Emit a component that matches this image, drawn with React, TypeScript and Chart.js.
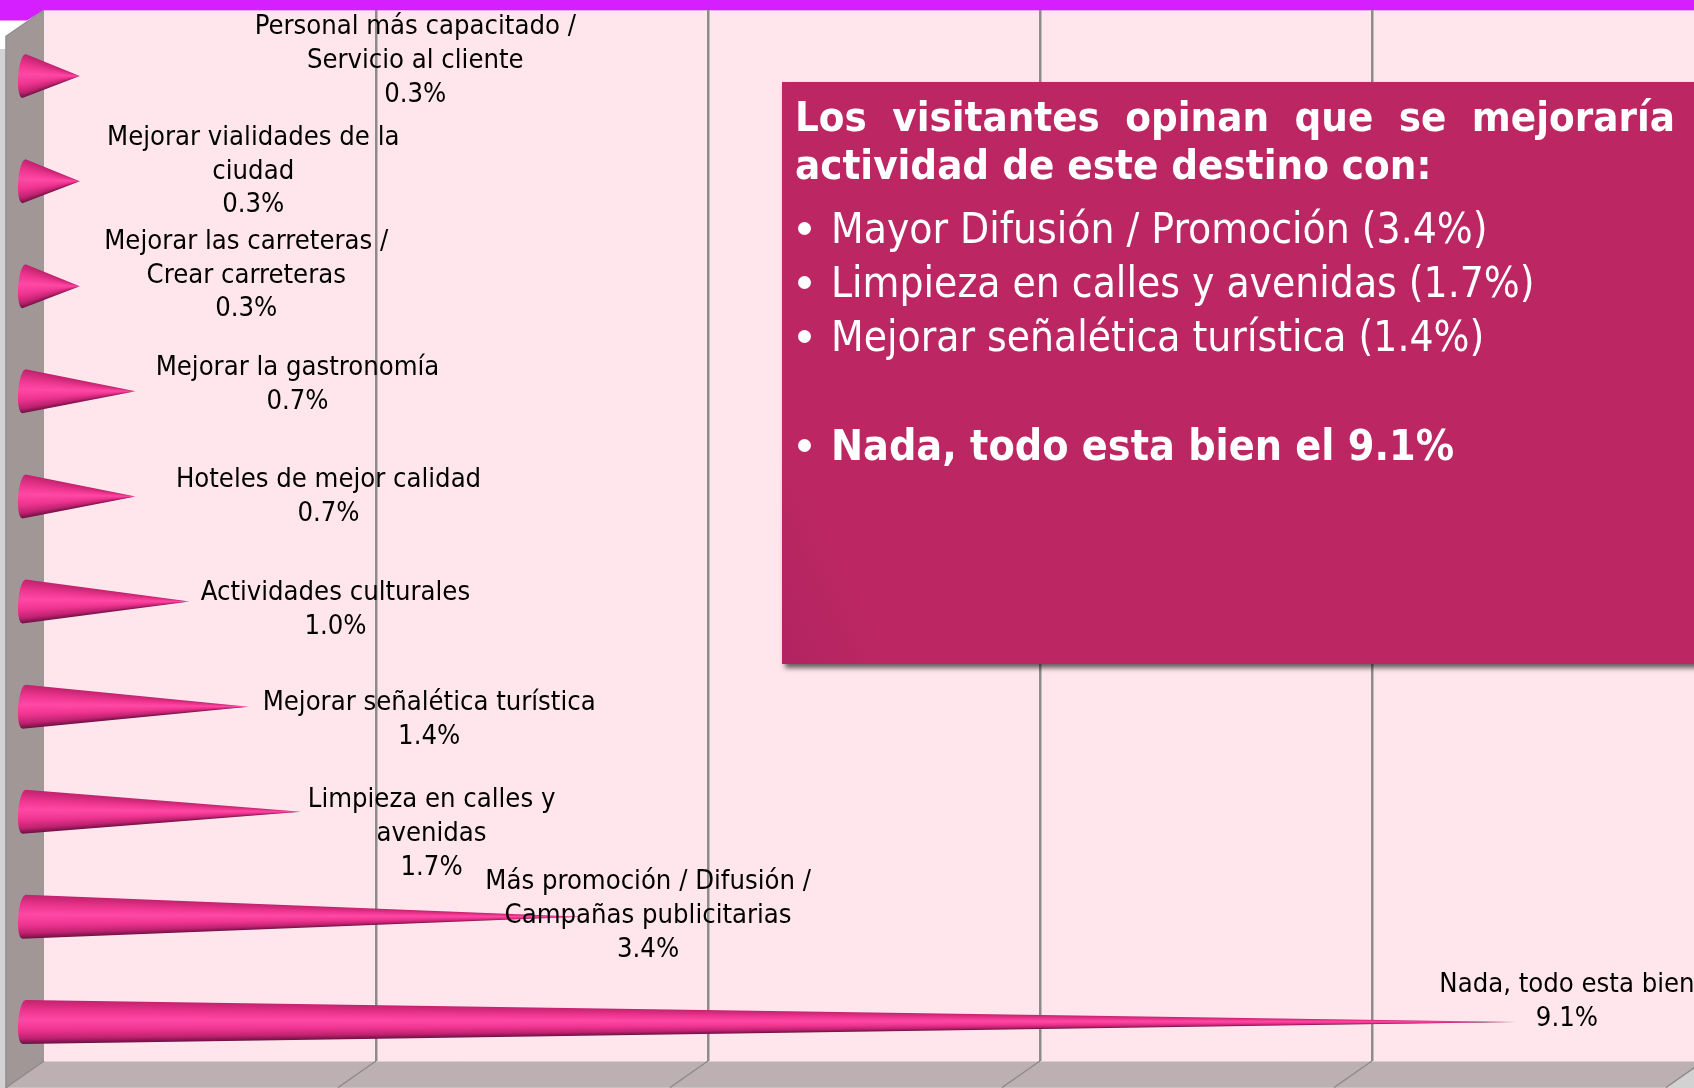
import React, { useEffect, useRef } from "react";
import { Chart, registerables } from "chart.js";

Chart.register(...registerables);

const categories: string[][] = [
  ["Personal más capacitado /", "Servicio al cliente"],
  ["Mejorar vialidades de la", "ciudad"],
  ["Mejorar las carreteras /", "Crear carreteras"],
  ["Mejorar la gastronomía"],
  ["Hoteles de mejor calidad"],
  ["Actividades culturales"],
  ["Mejorar señalética turística"],
  ["Limpieza en calles y", "avenidas"],
  ["Más promoción / Difusión /", "Campañas publicitarias"],
  ["Nada, todo esta bien"],
];
const shares = [0.34, 0.34, 0.34, 0.68, 0.68, 1.01, 1.37, 1.69, 3.4, 9.1];
const labelShiftX = [335.5, 173.5, 166.5, 162, 193, 145.8, 180.5, 130.4, 66.5, 50.5];
const labelShiftY = [-15.2, -9.7, -10.7, -6.7, 0.3, 8.3, 13.3, 22.3, -0.7, -19.7];

const panelTitle = ["Los visitantes opinan que se mejoraría", "actividad de este destino con:"];
const panelItems = [
  "Mayor Difusión / Promoción (3.4%)",
  "Limpieza en calles y avenidas (1.7%)",
  "Mejorar señalética turística (1.4%)",
];
const panelBold = "Nada, todo esta bien el 9.1%";

const W = 1694;
const H = 1088;
const FONT = "'DejaVu Sans Condensed', 'DejaVu Sans'";
const DEPTH_X = 38;
const DEPTH_Y = 26.5;
const RAMP: [number, string][] = [
  [0, "#c2226e"],
  [0.25, "#ee3690"],
  [0.45, "#ff48a5"],
  [0.68, "#ee3490"],
  [0.87, "#c02270"],
  [1, "#6c1042"],
];

const roomPlugin = {
  id: "room",
  beforeDraw(chart: any) {
    const { ctx, chartArea: a, scales } = chart;
    const x = scales.x;
    const poly = (pts: number[][], fill: string) => {
      ctx.beginPath();
      pts.forEach((p, i) => (i ? ctx.lineTo(p[0], p[1]) : ctx.moveTo(p[0], p[1])));
      ctx.closePath();
      ctx.fillStyle = fill;
      ctx.fill();
    };
    ctx.save();
    ctx.fillStyle = "#ffffff";
    ctx.fillRect(0, 0, W, H);
    ctx.fillStyle = "#d2d2d2";
    ctx.fillRect(0, 49, W, H);
    ctx.fillStyle = "#d61fff";
    ctx.fillRect(0, 0, W, a.top);
    poly([[0, 0], [44, 0], [44, 10], [27, 20.5], [0, 20.5]], "#d61fff");
    // back wall
    ctx.fillStyle = "#ffe6ec";
    ctx.fillRect(a.left, a.top, a.width, a.height);
    ctx.fillStyle = "#e8a8f0";
    ctx.fillRect(a.left, a.top, a.width, 1);
    // side wall
    poly(
      [[a.left, a.top], [a.left - DEPTH_X, a.top + DEPTH_Y], [a.left - DEPTH_X, H + 1], [a.left, a.bottom]],
      "#a29797"
    );
    ctx.strokeStyle = "#8f8f8f";
    ctx.lineWidth = 1.5;
    ctx.beginPath();
    ctx.moveTo(a.left, a.top);
    ctx.lineTo(a.left - DEPTH_X, a.top + DEPTH_Y);
    ctx.lineTo(a.left - DEPTH_X, H);
    ctx.stroke();
    // floor
    const end = x.getPixelForValue(10);
    poly(
      [[a.left, a.bottom], [end, a.bottom], [end - DEPTH_X, a.bottom + DEPTH_Y], [a.left - DEPTH_X, a.bottom + DEPTH_Y]],
      "#bdb0b3"
    );
    ctx.strokeStyle = "#d9cdd0";
    ctx.lineWidth = 1;
    ctx.beginPath();
    ctx.moveTo(a.left, a.bottom + 0.5);
    ctx.lineTo(a.right, a.bottom + 0.5);
    ctx.stroke();
    ctx.strokeStyle = "#8f8a8b";
    ctx.lineWidth = 1.5;
    [0, 2, 4, 6, 8, 10].forEach((v) => {
      const px = x.getPixelForValue(v);
      ctx.beginPath();
      ctx.moveTo(px, a.bottom);
      ctx.lineTo(px - DEPTH_X, a.bottom + DEPTH_Y);
      ctx.stroke();
    });
    ctx.restore();
  },
};

const conePlugin = {
  id: "cones",
  afterDatasetsDraw(chart: any) {
    const { ctx } = chart;
    const bars = chart.getDatasetMeta(0).data;
    const values = chart.data.datasets[0].data;
    const labels = chart.data.labels;
    ctx.save();
    bars.forEach((bar: any) => {
      const cx = bar.base - 20;
      const cy = bar.y + 13.5;
      const tip = cx + (bar.x - bar.base) * 0.988;
      const R = bar.height / 2;
      const rx = 5.8;
      ctx.save();
      ctx.beginPath();
      ctx.moveTo(tip, cy);
      for (let k = 0; k <= 40; k++) {
        const v = -1 + (2 * k) / 40;
        ctx.lineTo(cx - 1.6 * v - rx * Math.sqrt(Math.max(0, 1 - v * v)), cy + v * R);
      }
      ctx.closePath();
      ctx.clip();
      const startX = Math.floor(cx - rx - 3);
      const endX = Math.ceil(tip);
      for (let px = startX; px < endX; px++) {
        const mid = px + 0.5;
        const h = mid <= cx ? R : Math.max(0.4, (R * (tip - mid)) / (tip - cx));
        const g = ctx.createLinearGradient(0, cy - h, 0, cy + h);
        RAMP.forEach(([s, c]) => g.addColorStop(s, c));
        ctx.fillStyle = g;
        ctx.fillRect(px, cy - R - 2, 1, 2 * R + 4);
      }
      ctx.restore();
    });
    ctx.fillStyle = "#000000";
    ctx.textAlign = "center";
    ctx.textBaseline = "middle";
    ctx.font = `27.2px ${FONT}`;
    const LH = 33.8;
    bars.forEach((bar: any, i: number) => {
      const cx = bar.base - 20;
      const cy = bar.y + 13.5;
      const tip = cx + (bar.x - bar.base) * 0.988;
      const lines = [...labels[i], `${values[i].toFixed(1)}%`];
      const top = cy + labelShiftY[i] - ((lines.length - 1) * LH) / 2;
      lines.forEach((ln: string, k: number) => {
        ctx.fillText(ln, tip + labelShiftX[i], top + k * LH);
      });
    });
    ctx.restore();
  },
};

function Dot() {
  return (
    <span style={{ display: "inline-block", width: 36, position: "relative", height: 1 }}>
      <span
        style={{
          position: "absolute",
          left: 3,
          top: -20,
          width: 13,
          height: 13,
          borderRadius: "50%",
          background: "#fff",
        }}
      />
    </span>
  );
}

export default function App() {
  const ref = useRef<HTMLCanvasElement>(null);
  useEffect(() => {
    const chart = new Chart(ref.current as HTMLCanvasElement, {
      type: "bar",
      data: {
        labels: categories as any,
        datasets: [
          {
            label: "Mejoras",
            data: shares,
            backgroundColor: "rgba(0,0,0,0)",
            borderWidth: 0,
            barThickness: 44,
          },
        ],
      },
      options: {
        indexAxis: "y",
        animation: false,
        responsive: false,
        layout: { padding: { left: 44, top: 10, bottom: 27, right: 0 } },
        plugins: { legend: { display: false }, tooltip: { enabled: false } },
        scales: {
          x: {
            min: 0,
            max: 9.94,
            ticks: { display: false, stepSize: 2 },
            border: { display: false },
            grid: { color: "#8c8c8c", lineWidth: 2.5, drawTicks: false },
            afterBuildTicks: (s: any) => {
              s.ticks = s.ticks.filter((t: any) => t.value > 0 && t.value < 9);
            },
            afterFit: (s: any) => {
              s.height = 0;
            },
          },
          y: { display: false },
        },
      } as any,
      plugins: [roomPlugin, conePlugin],
    });
    return () => chart.destroy();
  }, []);

  return (
    <div style={{ position: "fixed", left: 0, top: 0, width: W, height: H, overflow: "hidden" }}>
      <canvas ref={ref} width={W} height={H} style={{ display: "block" }} />
      <div
        style={{
          position: "absolute",
          left: 782,
          top: 82,
          width: 940,
          height: 582,
          background: "linear-gradient(65deg, #b12461 0%, #bc2763 9%, #bc2763 100%)",
          boxShadow: "3px 4px 5px rgba(0,0,0,0.6)",
          color: "#fff",
          fontFamily: FONT,
        }}
      >
        <div style={{ position: "absolute", left: 13, top: 11, fontSize: 41.6, fontWeight: 700, lineHeight: "47.5px", width: 880 }}>
          <div style={{ textAlign: "justify", textAlignLast: "justify" }}>{panelTitle[0]}</div>
          <div>{panelTitle[1]}</div>
        </div>
        {panelItems.map((t, i) => (
          <div
            key={t}
            style={{ position: "absolute", left: 13, top: 120 + i * 54, fontSize: 42.1, lineHeight: "54px", whiteSpace: "nowrap" }}
          >
            <Dot />
            {t}
          </div>
        ))}
        <div style={{ position: "absolute", left: 13, top: 336, fontSize: 42.6, fontWeight: 700, lineHeight: "54px", whiteSpace: "nowrap" }}>
          <Dot />
          {panelBold}
        </div>
      </div>
    </div>
  );
}
